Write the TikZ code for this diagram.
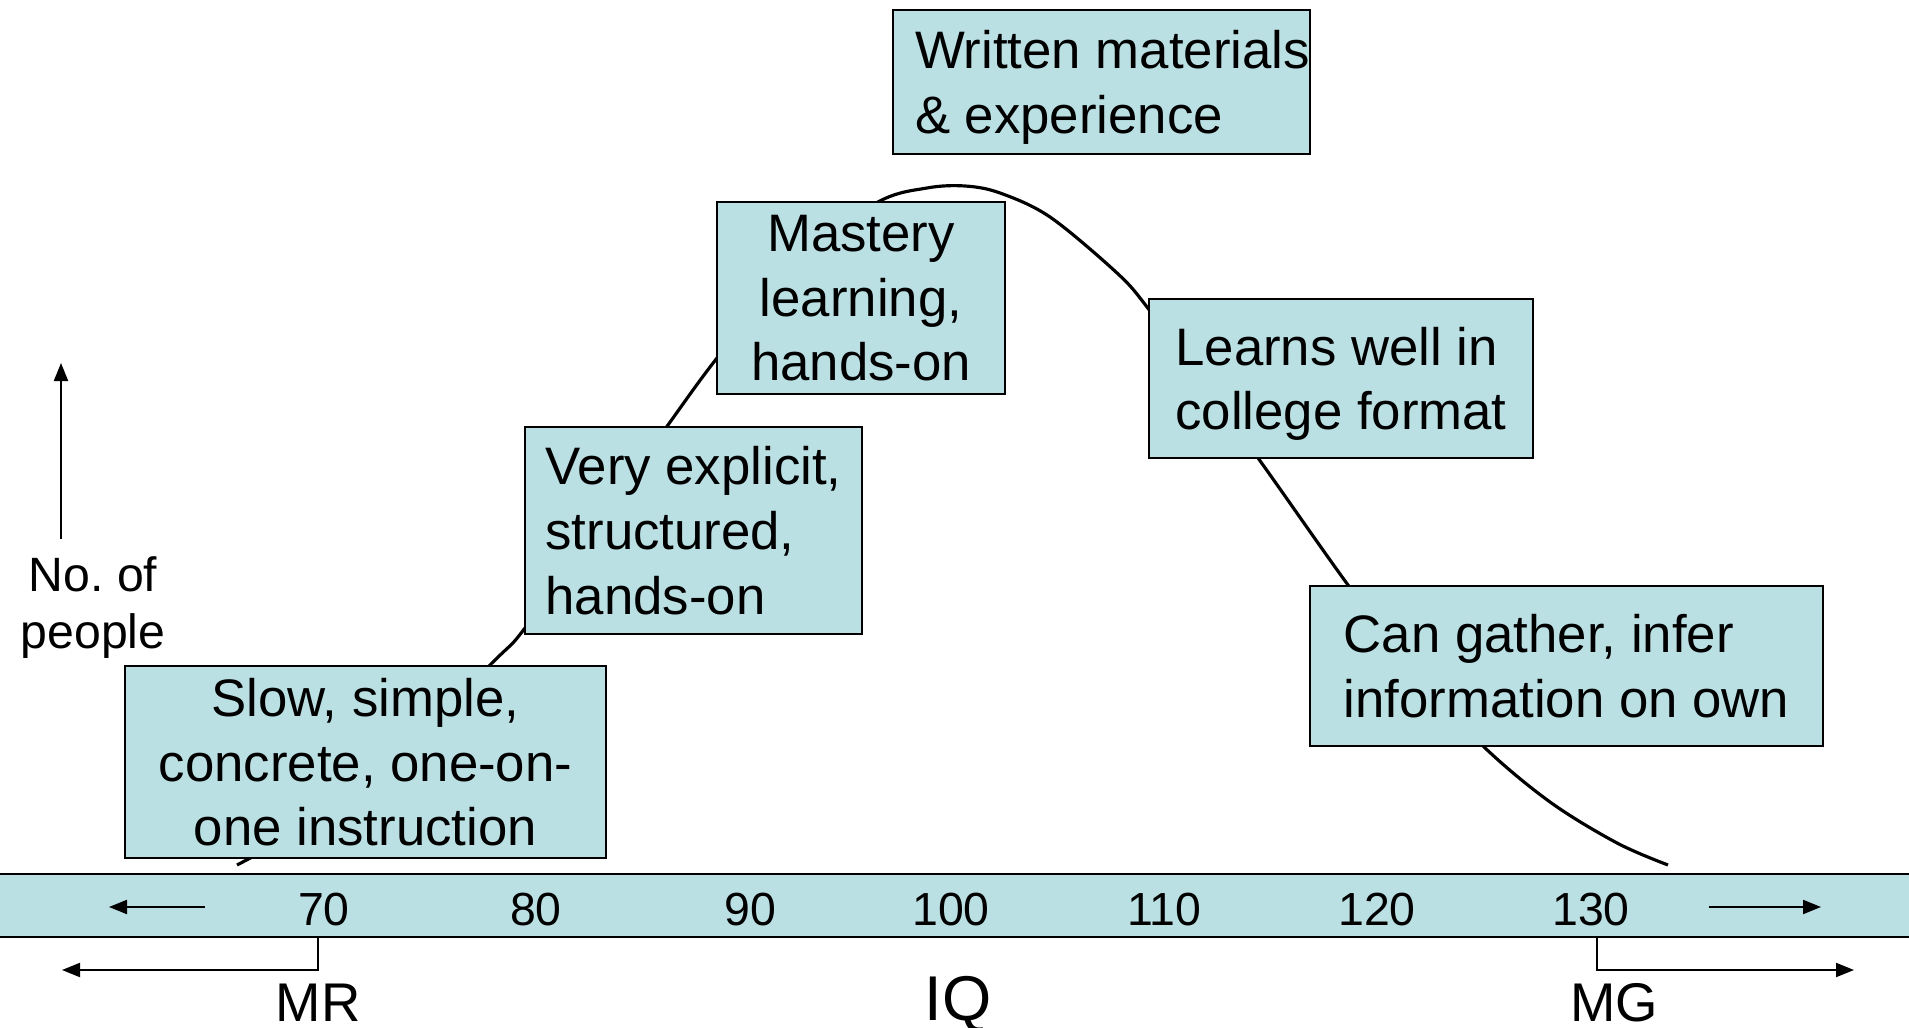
\documentclass[tikz,border=0pt]{standalone}
\usepackage{fontspec}
\setmainfont{Liberation Sans}
\usepackage{xcolor}
\definecolor{bandblue}{RGB}{187, 224, 228}
\usetikzlibrary{arrows.meta, positioning}

\begin{document}
\begin{tikzpicture}[x=0.01cm, y=-0.01cm,
  tipbox/.style={draw=black, line width=0.6pt, fill=bandblue, inner sep=2pt,
    text depth=0pt, font=\fontsize{15}{18.4}\selectfont},
  ticklabel/.style={font=\fontsize{13.2}{15}\selectfont, anchor=base},
  sidelabel/.style={font=\fontsize{15.5}{18}\selectfont, anchor=base},
  axisarrow/.style={-{Triangle[length=1.8mm, width=1.4mm]}, line width=0.6pt}]

  \useasboundingbox (0,0) rectangle (1909,1028);

  % IQ BAND along the bottom
  \node[draw=black, line width=0.6pt, fill=bandblue, inner sep=0pt,
    minimum width=19.3cm, minimum height=0.63cm] (band) at (954.5,905.5) {};
  \foreach \val/\xpos in {70/324, 80/536, 90/750, 100/951, 110/1164, 120/1377, 130/1591}
    \node[ticklabel] (t\val) at (\xpos,925) {\val};

  % arrows inside the band
  \coordinate (lefttail) at (205,907);
  \coordinate (lefttip) at (109,907);
  \coordinate (righttail) at (1709,907);
  \coordinate (righttip) at (1821,907);
  \draw[axisarrow] (lefttail) -- (lefttip);
  \draw[axisarrow] (righttail) -- (righttip);

  % bell curve - drawn first so the boxes sit on top
  \draw[line width=0.9pt, line join=round] plot[smooth, tension=0.55] coordinates {
    (237,865) (364,789) (490,665) (525,628) (597,525) (668,425) (717,358)
    (798,258) (878,202) (927,188) (965,186) (1000,193) (1050,217) (1117,273)
    (1147,307) (1200,380) (1258,458) (1348,585) (1415,672) (1483,746)
    (1550,802) (1617,843) (1668,865)};

  % teaching boxes along the curve
  \node[tipbox, minimum width=4.81cm, minimum height=1.92cm, align=center] (slow)
    at (365.5,762) {Slow, simple,\\concrete, one-on-\\one instruction};
  \node[tipbox, minimum width=3.37cm, minimum height=2.07cm, align=left] (explicit)
    at (693.5,530.5) {Very explicit,\\structured,\\hands-on};
  \node[tipbox, minimum width=2.88cm, minimum height=1.92cm, align=center] (mastery)
    at (861,298) {Mastery\\learning,\\hands-on};
  \node[tipbox, minimum width=4.17cm, minimum height=1.44cm, align=left] (written)
    at (1101.5,82) {Written materials\hspace*{-0.22cm}\\\& experience};
  \node[tipbox, minimum width=3.84cm, minimum height=1.59cm, align=left] (learns)
    at (1341,378.5) {Learns well in\\college format};
  \node[tipbox, minimum width=5.13cm, minimum height=1.60cm, align=left] (gather)
    at (1566.5,666) {Can gather, infer\\information on own};

  % vertical axis
  \coordinate (ybase) at (61,539);
  \coordinate (ytop) at (61,363);
  \draw[axisarrow] (ybase) -- (ytop);
  \node[font=\fontsize{13.7}{16.2}\selectfont, align=center] (people) at (93,608) {No.\ of\\people};

  % MR / MG brackets and labels
  \node[sidelabel] (mr) at (318,1021) {MR};
  \node[sidelabel] (mg) at (1614,1021) {MG};
  \node[font=\fontsize{18}{21}\selectfont, anchor=base] (iq) at (958,1020) {IQ};
  \coordinate (mrtip) at (62,970);
  \coordinate (mgtop) at (1597,937);
  \coordinate (mgtip) at (1854,970);
  \draw[axisarrow] (band.south -| mr) |- (mrtip);
  \draw[axisarrow] (mgtop) |- (mgtip);

\end{tikzpicture}
\end{document}
